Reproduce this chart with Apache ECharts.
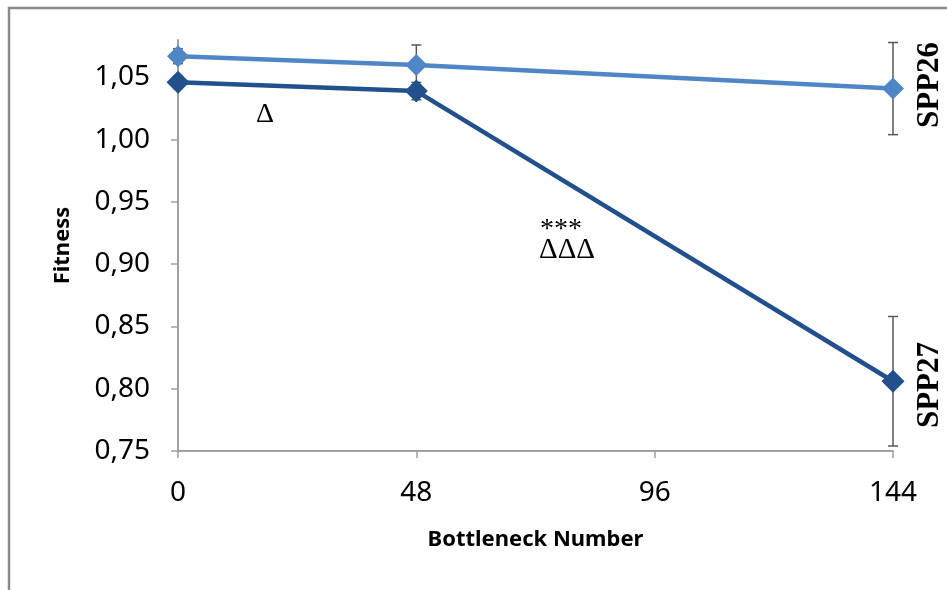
<!DOCTYPE html>
<html>
<head>
<meta charset="utf-8">
<style>
html,body{margin:0;padding:0;background:#fff;}
#c{width:947px;height:590px;}
</style>
<script src="https://cdn.jsdelivr.net/npm/echarts@6/dist/echarts.min.js"></script>
</head>
<body>
<div id="c"></div>
<script>
const xValues = [0, 48, 144];
const xTicks = [0, 48, 96, 144];
const yTicks = [0.75, 0.80, 0.85, 0.90, 0.95, 1.00, 1.05];
const spp26 = [1.067, 1.060, 1.041];
const spp26Err = [0.006, 0.016, 0.037];
const spp27 = [1.046, 1.039, 0.806];
const spp27Err = [0.005, 0.007, 0.052];
const seriesNames = ['SPP26', 'SPP27'];

const c26 = '#4F86C6';
const c27 = '#21508C';

function pts(vals){ return xValues.map((x,i)=>[x, vals[i]]); }
function errs(vals, e){ return xValues.map((x,i)=>[x, vals[i]-e[i], vals[i]+e[i]]); }

function errRender(params, api){
  const x = api.value(0);
  const lo = api.coord([x, api.value(1)]);
  const hi = api.coord([x, api.value(2)]);
  const w = 5;
  const st = {stroke:'#595959', lineWidth:1.5};
  return {type:'group', children:[
    {type:'line', shape:{x1:lo[0],y1:lo[1],x2:hi[0],y2:hi[1]}, style:st},
    {type:'line', shape:{x1:lo[0]-w,y1:lo[1],x2:lo[0]+w,y2:lo[1]}, style:st},
    {type:'line', shape:{x1:hi[0]-w,y1:hi[1],x2:hi[0]+w,y2:hi[1]}, style:st}
  ]};
}

const chart = echarts.init(document.getElementById('c'), null, {renderer:'canvas'});
const axisFont = {fontFamily:'Noto Sans', fontSize:28, color:'#000'};
chart.setOption({
  animation:false,
  backgroundColor:'#fff',
  grid:{left:178, right:54, top:40, bottom:139},
  xAxis:{
    type:'value', min:0, max:144, interval:48,
    name:'Bottleneck Number', nameLocation:'middle', nameGap:78,
    nameTextStyle:{fontFamily:'Noto Sans', fontWeight:'bold', fontSize:22, color:'#000'},
    axisLine:{show:true, lineStyle:{color:'#A0A0A0', width:2}},
    axisTick:{show:true, inside:false, length:7, lineStyle:{color:'#A0A0A0', width:1.5}, customValues:xTicks},
    axisLabel:{...axisFont, margin:28, customValues:xTicks},
    splitLine:{show:false}
  },
  yAxis:{
    type:'value', min:0.75, max:1.08,
    name:'Fitness', nameLocation:'middle', nameGap:104,
    nameTextStyle:{fontFamily:'Noto Sans', fontWeight:'bold', fontSize:22, color:'#000'},
    axisLine:{show:true, lineStyle:{color:'#A0A0A0', width:2}},
    axisTick:{show:true, inside:false, length:7, lineStyle:{color:'#A0A0A0', width:1.5}, customValues:yTicks},
    axisLabel:{...axisFont, margin:28, customValues:yTicks, formatter:v=>v.toFixed(2).replace('.',',')},
    splitLine:{show:false}
  },
  series:[
    {type:'custom', name:seriesNames[0]+' err', renderItem:errRender, data:errs(spp26, spp26Err), z:1, encode:{x:0,y:[1,2]}},
    {type:'custom', name:seriesNames[1]+' err', renderItem:errRender, data:errs(spp27, spp27Err), z:1, encode:{x:0,y:[1,2]}},
    {type:'line', name:seriesNames[0], data:pts(spp26), symbol:'diamond', symbolSize:[22,22], z:3,
      lineStyle:{color:c26, width:4.5}, itemStyle:{color:c26}},
    {type:'line', name:seriesNames[1], data:pts(spp27), symbol:'diamond', symbolSize:[23,23], z:4,
      lineStyle:{color:c27, width:4.5}, itemStyle:{color:c27}}
  ],
  graphic:[
    {type:'rect', x:9, y:8, shape:{x:0,y:0,width:960,height:600}, style:{fill:null, stroke:'#8A8A8A', lineWidth:2.5}, silent:true, z:-1},
    {type:'text', x:265, y:115, style:{text:'Δ', font:'28px "Liberation Serif"', fill:'#000', align:'center', verticalAlign:'middle'}},
    {type:'text', x:561, y:230, style:{text:'***', font:'28px "Liberation Serif"', fill:'#000', align:'center', verticalAlign:'middle'}},
    {type:'text', x:567, y:250, style:{text:'ΔΔΔ', font:'29px "Liberation Serif"', fill:'#000', align:'center', verticalAlign:'middle'}},
    {type:'text', x:930, y:85, rotation:Math.PI/2, style:{text:seriesNames[0], font:'bold 31px "Liberation Serif"', fill:'#000', align:'center', verticalAlign:'middle'}},
    {type:'text', x:930, y:385, rotation:Math.PI/2, style:{text:seriesNames[1], font:'bold 31px "Liberation Serif"', fill:'#000', align:'center', verticalAlign:'middle'}}
  ]
});
</script>
</body>
</html>
